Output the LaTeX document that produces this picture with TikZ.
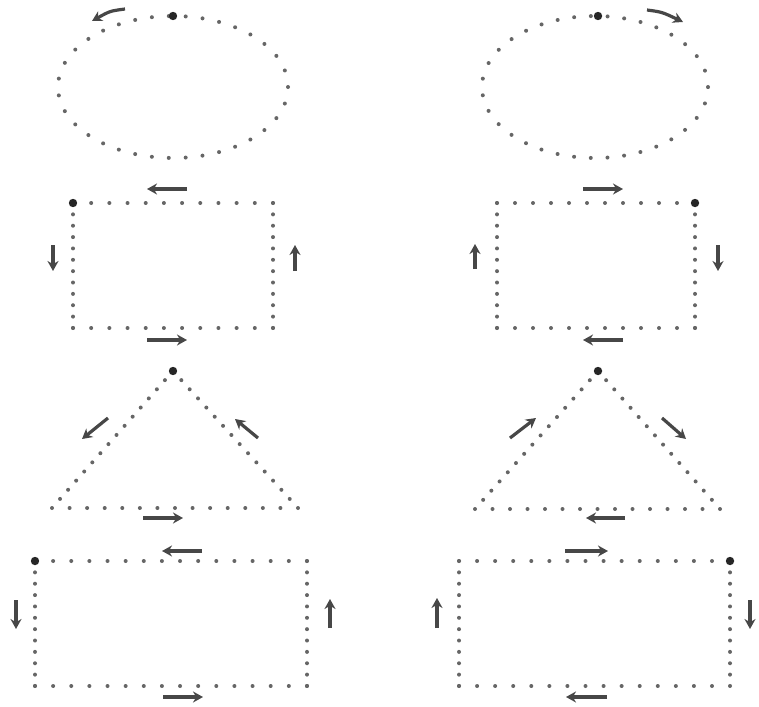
\documentclass[tikz,border=0pt]{standalone}
\usetikzlibrary{arrows.meta}
\begin{document}
\begin{tikzpicture}[x=1pt,y=-1pt,
  dotline/.style={line width=4pt, line cap=round, draw=black!60, dash pattern=on 0pt off #1},
  startdot/.style={fill=black!85, draw=none},
  dirarrow/.style={line width=3.2pt, draw=black!72, -{Stealth[length=10pt,width=11pt]}}]
\useasboundingbox (0,0) rectangle (759,706);

% ---------- Ellipses ----------
\draw[dotline=16.93pt] (173,87) ellipse [x radius=115pt, y radius=71pt];
\fill[startdot] (173,16) circle [radius=4.2pt];
\coordinate (ea1) at (125,9); \coordinate (eb1) at (92,21);
\draw[dirarrow] (ea1) .. controls (110,11) .. (eb1);

\draw[dotline=16.73pt] (595,87) ellipse [x radius=113pt, y radius=71pt];
\fill[startdot] (598,16) circle [radius=4.2pt];
\coordinate (ea2) at (647,10); \coordinate (eb2) at (683,22);
\draw[dirarrow] (ea2) .. controls (662,12) .. (eb2);

% ---------- Rectangle 1 left ----------
\coordinate (r1a) at (73,203); \coordinate (r1b) at (273,203);
\coordinate (r1c) at (273,328); \coordinate (r1d) at (73,328);
\draw[dotline=18.18pt] (r1a) -- (r1b);
\draw[dotline=18.18pt] (r1d) -- (r1c);
\draw[dotline=11.36pt] (r1a) -- (r1d);
\draw[dotline=11.36pt] (r1b) -- (r1c);
\fill[startdot] (r1a) circle [radius=4.2pt];
\draw[dirarrow] (187,189) -- (147,189);
\draw[dirarrow] (53,245) -- (53,271);
\draw[dirarrow] (295,271) -- (295,245);
\draw[dirarrow] (147,340) -- (187,340);

% ---------- Rectangle 1 right ----------
\coordinate (r2a) at (497,203); \coordinate (r2b) at (695,203);
\coordinate (r2c) at (695,328); \coordinate (r2d) at (497,328);
\draw[dotline=18pt] (r2a) -- (r2b);
\draw[dotline=18pt] (r2d) -- (r2c);
\draw[dotline=11.36pt] (r2a) -- (r2d);
\draw[dotline=11.36pt] (r2b) -- (r2c);
\fill[startdot] (r2b) circle [radius=4.2pt];
\draw[dirarrow] (583,189) -- (623,189);
\draw[dirarrow] (475,269) -- (475,244);
\draw[dirarrow] (718,245) -- (718,271);
\draw[dirarrow] (623,340) -- (583,340);

% ---------- Triangle left ----------
\coordinate (t1a) at (173,371); \coordinate (t1b) at (52,508); \coordinate (t1c) at (298,508);
\draw[dotline=12.19pt] (t1a) -- (t1b);
\draw[dotline=12.37pt] (t1a) -- (t1c);
\draw[dotline=17.57pt] (t1b) -- (t1c);
\fill[startdot] (t1a) circle [radius=4.2pt];
\draw[dirarrow] (108,418) -- (82,439);
\draw[dirarrow] (258,438) -- (235,419);
\draw[dirarrow] (143,518) -- (183,518);

% ---------- Triangle right ----------
\coordinate (t2a) at (598,371); \coordinate (t2b) at (475,509); \coordinate (t2c) at (720,509);
\draw[dotline=12.33pt] (t2a) -- (t2b);
\draw[dotline=12.28pt] (t2a) -- (t2c);
\draw[dotline=17.5pt] (t2b) -- (t2c);
\fill[startdot] (t2a) circle [radius=4.2pt];
\draw[dirarrow] (510,438) -- (536,418);
\draw[dirarrow] (662,418) -- (686,439);
\draw[dirarrow] (625,518) -- (586,518);

% ---------- Rectangle 2 left ----------
\coordinate (q1a) at (35,561); \coordinate (q1b) at (307,561);
\coordinate (q1c) at (307,686); \coordinate (q1d) at (35,686);
\draw[dotline=18.13pt] (q1a) -- (q1b);
\draw[dotline=18.13pt] (q1d) -- (q1c);
\draw[dotline=11.36pt] (q1a) -- (q1d);
\draw[dotline=11.36pt] (q1b) -- (q1c);
\fill[startdot] (q1a) circle [radius=4.2pt];
\draw[dirarrow] (202,551) -- (162,551);
\draw[dirarrow] (16,600) -- (16,629);
\draw[dirarrow] (330,628) -- (330,599);
\draw[dirarrow] (163,697) -- (203,697);

% ---------- Rectangle 2 right ----------
\coordinate (q2a) at (459,561); \coordinate (q2b) at (730,561);
\coordinate (q2c) at (730,686); \coordinate (q2d) at (459,686);
\draw[dotline=18.07pt] (q2a) -- (q2b);
\draw[dotline=18.07pt] (q2d) -- (q2c);
\draw[dotline=11.36pt] (q2a) -- (q2d);
\draw[dotline=11.36pt] (q2b) -- (q2c);
\fill[startdot] (q2b) circle [radius=4.2pt];
\draw[dirarrow] (565,551) -- (608,551);
\draw[dirarrow] (437,628) -- (437,598);
\draw[dirarrow] (750,600) -- (750,629);
\draw[dirarrow] (607,697) -- (566,697);
\end{tikzpicture}
\end{document}
